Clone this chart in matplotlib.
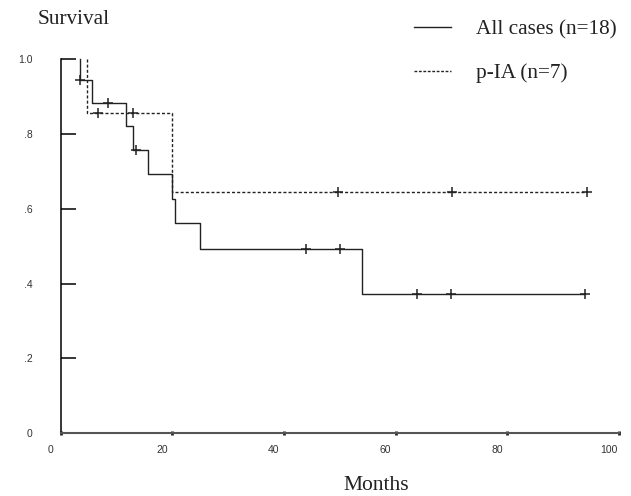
import numpy as np
import matplotlib
matplotlib.use('Agg')
import matplotlib.pyplot as plt
from matplotlib.lines import Line2D
from matplotlib.transforms import ScaledTranslation

# Kaplan-Meier steps (months, survival after each drop)
all_drop_months = [3.5, 5.7, 11.7, 12.9, 15.6, 19.9, 20.5, 24.9, 54.0]
all_levels = [0.944, 0.882, 0.820, 0.757, 0.694, 0.626, 0.562, 0.493, 0.372]
all_end = 94.0
all_censored = [3.5, 8.5, 13.6, 44.0, 50.0, 63.9, 69.9, 94.0]

pia_drop_months = [4.7, 19.9]
pia_levels = [0.857, 0.646]
pia_end = 94.3
pia_censored = [6.8, 13.0, 49.7, 70.1, 94.3]

x_ticks = [0, 20, 40, 60, 80, 100]
y_ticks = [0, 0.2, 0.4, 0.6, 0.8, 1.0]
y_tick_labels = ['0', '.2', '.4', '.6', '.8', '1.0']

serif = ['Liberation Serif', 'DejaVu Serif']
sans = ['Liberation Sans', 'DejaVu Sans']


# Build step coordinates from drop times and levels
def step_xy(drops, levels, end):
    x = [drops[0]] + list(drops) + [end]
    y = [1.0] + list(levels) + [levels[-1]]
    return x, y


# Survival level at a given time (right after any drop at that time)
def level_at(t, drops, levels):
    i = np.searchsorted(drops, t, side='right')
    return 1.0 if i == 0 else levels[i - 1]


fig = plt.figure(figsize=(6.31, 4.96), dpi=100)
ax = fig.add_axes([60.5 / 631, 1 - 433.3 / 496, 558.5 / 631, 374.3 / 496])

x, y = step_xy(all_drop_months, all_levels, all_end)
ax.step(x, y, where='post', color='#222222', lw=1.0, clip_on=False)
cy = [level_at(t, all_drop_months, all_levels) for t in all_censored]
ax.plot(all_censored, cy, ls='none', marker='+', ms=7.5, mew=1.1,
        color='#222222', clip_on=False)

x, y = step_xy(pia_drop_months, pia_levels, pia_end)
ax.step(x, y, where='post', color='#222222', lw=1.0, dashes=(2.2, 1.5),
        clip_on=False)
cy = [level_at(t, pia_drop_months, pia_levels) for t in pia_censored]
ax.plot(pia_censored, cy, ls='none', marker='+', ms=7, mew=1.1,
        color='#222222', clip_on=False)

ax.set_xlim(0, 100)
ax.set_ylim(0, 1.0)

for side in ['top', 'right']:
    ax.spines[side].set_visible(False)
ax.spines['left'].set_color('black')
ax.spines['left'].set_linewidth(1.1)
ax.spines['bottom'].set_color('#555555')
ax.spines['bottom'].set_linewidth(1.5)

ax.set_xticks(x_ticks)
ax.set_xticklabels([str(v) for v in x_ticks], fontfamily=sans, fontsize=7.5,
                   color='#333333')
ax.tick_params(axis='x', direction='inout', length=2.5, width=2,
               color='#222222', pad=7)
shift = ScaledTranslation(-0.1, 0, fig.dpi_scale_trans)
for lab in ax.get_xticklabels():
    lab.set_transform(lab.get_transform() + shift)

ax.set_yticks(y_ticks)
ax.set_yticklabels(y_tick_labels, fontfamily=sans, fontsize=7.5,
                   color='#333333')
ax.tick_params(axis='y', direction='in', length=10.8, width=1.1,
               color='black', pad=20)

fig.text(74 / 631, 1 - 20 / 496, 'Survival', family=serif, fontsize=15.3,
         ha='center', va='center', color='#222222')
fig.text(376 / 631, 1 - 485 / 496, 'Months', family=serif, fontsize=15.5,
         ha='center', va='center', color='#222222')

handles = [Line2D([], [], color='#222222', lw=1.0),
           Line2D([], [], color='#222222', lw=1.0, dashes=(2.0, 1.2))]
leg = fig.legend(handles, ['All cases (n=18)', 'p-IA (n=7)'],
                 loc='upper left', bbox_to_anchor=(414 / 631, 1 - 20 / 496),
                 frameon=False, borderpad=0, borderaxespad=0,
                 handlelength=1.75, handletextpad=1.15, labelspacing=1.1,
                 prop={'family': serif, 'size': 15.3})
for t in leg.get_texts():
    t.set_color('#222222')

fig.savefig('out.png', dpi=100)
